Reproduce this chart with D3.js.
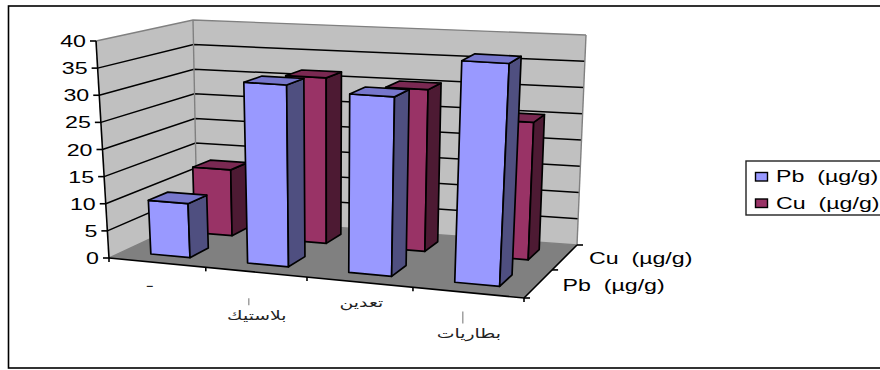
<!DOCTYPE html>
<html>
<head>
<meta charset="utf-8">
<script src="https://cdn.jsdelivr.net/npm/d3@7/dist/d3.min.js"></script>
<style>
html,body{margin:0;padding:0;background:#fff}
svg{display:block}
text{white-space:pre}
</style>
</head>
<body>
<div id="chart"></div>
<script>
// Chart data
const categories = ["ـ", "بلاستيك", "تعدين", "بطاريات"];
const seriesNames = ["Pb  (µg/g)", "Cu  (µg/g)"];
const pbValues = [10, 33.2, 32.3, 39.5];
const cuValues = [12.8, 31.7, 30.5, 25.5];
const valueTicks = [0, 5, 10, 15, 20, 25, 30, 35, 40];

const width = 880, height = 370;

// Eight corners of the chart box on screen (F/B = front/back, L/R, B/T = bottom/top)
const box = {
  FLB: [109, 258], FRB: [524, 298], BLB: [197, 217], BRB: [577, 245],
  FLT: [96, 41],   FRT: [536, 68],  BLT: [193, 20],  BRT: [586, 35]
};

// Foreshortening along the width and depth of the floor
const warpU = t => t / (1.096 - 0.096 * t);
const warpV = t => t / (0.887 + 0.113 * t);

const zScale = d3.scaleLinear().domain([0, 40]).range([0, 1]);
const uScale = d3.scaleBand().domain(categories).range([0, 1])
  .paddingInner(0.59).paddingOuter(0.295);
const vScale = d3.scaleBand().domain(seriesNames).range([0, 1])
  .paddingInner(0.58).paddingOuter(0.29);

const mix = (a, b, t) => [a[0] + (b[0] - a[0]) * t, a[1] + (b[1] - a[1]) * t];

// Project a box coordinate (width, depth, value) to the screen
function project(u, v, value) {
  const a = warpU(u), b = warpV(v), z = zScale(value);
  const floor = mix(mix(box.FLB, box.FRB, a), mix(box.BLB, box.BRB, a), b);
  const roof = mix(mix(box.FLT, box.FRT, a), mix(box.BLT, box.BRT, a), b);
  return mix(floor, roof, z);
}

const svg = d3.select("#chart").append("svg")
  .attr("width", width).attr("height", height);

const line = d3.line();
const poly = pts => line(pts) + "Z";

// Frame
svg.append("rect").attr("x", 8.5).attr("y", 6).attr("width", 900).attr("height", 362)
  .attr("fill", "#fff").attr("stroke", "#000").attr("stroke-width", 1.6);

// Walls and floor
const gWalls = svg.append("g");
gWalls.append("path").attr("fill", "#c0c0c0")
  .attr("d", poly([project(0,0,0), project(0,1,0), project(1,1,0), project(1,1,40),
                   project(0,1,40), project(0,0,40)]));
gWalls.append("path").attr("fill", "#808080")
  .attr("d", poly([project(0,0,0), project(1,0,0), project(1,1,0), project(0,1,0)]));

// Gridlines run along the left wall, then the back wall
valueTicks.forEach(t => {
  const edge = t === 0 || t === 40;
  gWalls.append("path").attr("fill", "none")
    .attr("stroke", edge ? "#808080" : "#000")
    .attr("stroke-width", edge ? 1.4 : 1.5)
    .attr("d", line([project(0,0,t), project(0,1,t), project(1,1,t)]));
});
[[0,1],[1,1]].forEach(([u, v]) => {
  gWalls.append("path").attr("stroke", "#808080").attr("stroke-width", 1.4)
    .attr("d", line([project(u,v,0), project(u,v,40)]));
});

// Columns, back row first so the front row overlaps it
const rows = [
  { name: seriesNames[1], values: cuValues, front: "#993366", side: "#4d1a33", top: "#7a2952" },
  { name: seriesNames[0], values: pbValues, front: "#9999ff", side: "#4f4f80", top: "#7777cc" }
];
const gBars = svg.append("g").attr("stroke", "#000").attr("stroke-width", 1.7)
  .attr("stroke-linejoin", "round");
rows.forEach(r => {
  const v0 = vScale(r.name), v1 = v0 + vScale.bandwidth();
  categories.forEach((c, i) => {
    const u0 = uScale(c), u1 = u0 + uScale.bandwidth(), h = r.values[i];
    gBars.append("path").attr("fill", r.front)
      .attr("d", poly([project(u0,v0,0), project(u1,v0,0), project(u1,v0,h), project(u0,v0,h)]));
    gBars.append("path").attr("fill", r.side)
      .attr("d", poly([project(u1,v0,0), project(u1,v1,0), project(u1,v1,h), project(u1,v0,h)]));
    gBars.append("path").attr("fill", r.top)
      .attr("d", poly([project(u0,v0,h), project(u1,v0,h), project(u1,v1,h), project(u0,v1,h)]));
  });
});

// Axes
const gAxes = svg.append("g").attr("stroke", "#000").attr("stroke-width", 1.6).attr("fill", "none");
gAxes.append("path").attr("d", line([project(0,0,0), project(0,0,40)]));
gAxes.append("path").attr("d", line([project(0,0,0), project(1,0,0), project(1,1,0)]));

// Stretched label text, the chart's type runs wide
function wideText(x, y, str, anchor) {
  svg.append("text")
    .attr("transform", `translate(${x},${y}) scale(1.45,1)`)
    .attr("text-anchor", anchor || "start")
    .attr("font-family", "'Liberation Sans', Arial, sans-serif")
    .attr("font-size", 16).attr("fill", "#000")
    .text(str);
}

valueTicks.forEach(t => {
  const p = project(0,0,t);
  gAxes.append("path").attr("d", line([[p[0] - 6, p[1]], p]));
  wideText(p[0] - 10, p[1] + 6, String(t), "end");
});

[0, 0.25, 0.5, 0.75, 1].forEach(t => {
  const p = project(t,0,0);
  gAxes.append("path").attr("d", line([p, [p[0], p[1] + 4]]));
});

// Depth axis ticks and series names
[0, 0.5, 1].forEach(t => {
  const p = project(1,t,0);
  gAxes.append("path").attr("d", line([p, [p[0] + 6, p[1]]]));
});
seriesNames.forEach(name => {
  const p = project(1, vScale(name) + vScale.bandwidth() / 2, 0);
  wideText(p[0] + 24, p[1] + 7, name);
});

// Category labels, staggered in rows below the front edge
const labelDrop = [24, 48, 25, 45];
const labelShift = [-7, 1, 2, 1];
categories.forEach((c, i) => {
  const p = project(uScale(c) + uScale.bandwidth() / 2, 0, 0);
  svg.append("text")
    .attr("transform", `translate(${p[0] + labelShift[i]},${p[1] + labelDrop[i]}) scale(1.45,1)`)
    .attr("text-anchor", "middle").attr("direction", "rtl")
    .attr("font-family", "'DejaVu Sans', sans-serif")
    .attr("font-size", 13).attr("fill", "#222")
    .text(c);
});

// Short marks sitting above the second and fourth labels
const markSpan = [null, [26, 33], null, [19, 31]];
const markShift = [0, -7, 0, -5];
[1, 3].forEach(i => {
  const p = project(uScale(categories[i]) + uScale.bandwidth() / 2, 0, 0);
  const x = p[0] + markShift[i];
  svg.append("path").attr("stroke", "#888").attr("stroke-width", 1.2)
    .attr("d", line([[x, p[1] + markSpan[i][0]], [x, p[1] + markSpan[i][1]]]));
});

// Legend
const legend = svg.append("g");
legend.append("rect").attr("x", 746).attr("y", 161).attr("width", 150).attr("height", 54)
  .attr("fill", "#fff").attr("stroke", "#222").attr("stroke-width", 1.4);
[rows[1], rows[0]].forEach((r, i) => {
  legend.append("rect").attr("x", 755.5).attr("y", 172.5 + i * 26.5)
    .attr("width", 12).attr("height", 8.5)
    .attr("fill", r.front).attr("stroke", "#000").attr("stroke-width", 1.4);
  wideText(776, 182 + i * 26.5, r.name);
});
</script>
</body>
</html>
